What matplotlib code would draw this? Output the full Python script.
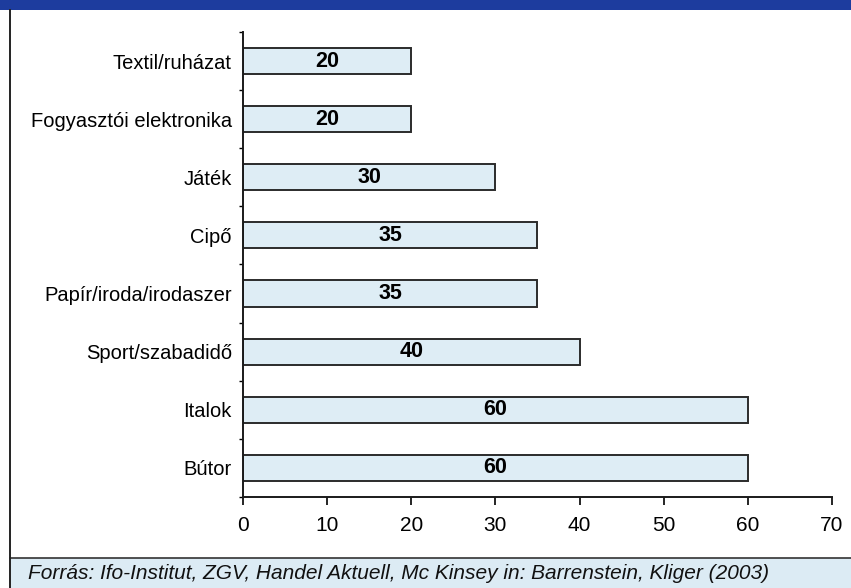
import matplotlib.pyplot as plt
from matplotlib.patches import Rectangle
from matplotlib.lines import Line2D

categories = ["Bútor", "Italok", "Sport/szabadidő", "Papír/iroda/irodaszer",
              "Cipő", "Játék", "Fogyasztói elektronika", "Textil/ruházat"]
values = [60, 60, 40, 35, 35, 30, 20, 20]
xticks = [0, 10, 20, 30, 40, 50, 60, 70]
source = "Forrás: Ifo-Institut, ZGV, Handel Aktuell, Mc Kinsey in: Barrenstein, Kliger (2003)"

plt.rcParams['font.family'] = ['Liberation Sans', 'DejaVu Sans']

fig = plt.figure(figsize=(8.51, 5.88), dpi=100)
fig.patch.set_facecolor('white')

# frame: dark blue header strip, left rule, light blue source band
fig.add_artist(Rectangle((0, 0.983), 1, 0.017, transform=fig.transFigure,
                         facecolor='#1d3c9e', edgecolor='none'))
fig.add_artist(Rectangle((0.0118, 0), 1, 0.051, transform=fig.transFigure,
                         facecolor='#dcebf4', edgecolor='none'))
fig.add_artist(Line2D([0.0118, 1], [0.051, 0.051], transform=fig.transFigure,
                      color='#333333', lw=1.2))
fig.add_artist(Line2D([0.0118, 0.0118], [0, 0.983], transform=fig.transFigure,
                      color='#222222', lw=1.4))
fig.text(0.033, 0.0155, source, fontsize=15, style='italic', va='baseline',
         ha='left', color='#111111')

ax = fig.add_axes([0.2855, 0.1548, 0.6921, 0.7908])
y = list(range(len(categories)))
bars = ax.barh(y, values, height=0.45, color='#deedf5', edgecolor='#2b2b2b', linewidth=1.4)
for yi, v in zip(y, values):
    ax.text(v / 2, yi, str(v), ha='center', va='center', fontsize=15.5,
            fontweight='bold', color='black')

ax.set_xlim(0, 70)
ax.set_ylim(-0.5, 7.5)
ax.set_xticks(xticks)
ax.set_xticklabels([str(t) for t in xticks], fontsize=15)
ax.set_yticks(y)
ax.set_yticklabels(categories, fontsize=14.5)
ax.set_yticks([i - 0.5 for i in range(len(categories) + 1)], minor=True)
ax.tick_params(axis='y', which='major', length=0, pad=8)
ax.tick_params(axis='y', which='minor', length=3, width=1, direction='out')
ax.tick_params(axis='x', which='major', length=6, width=1.2, direction='out', pad=8)
for s in ['top', 'right']:
    ax.spines[s].set_visible(False)
for s in ['left', 'bottom']:
    ax.spines[s].set_linewidth(1.4)
    ax.spines[s].set_color('#1a1a1a')

fig.savefig('out.png', dpi=100)
